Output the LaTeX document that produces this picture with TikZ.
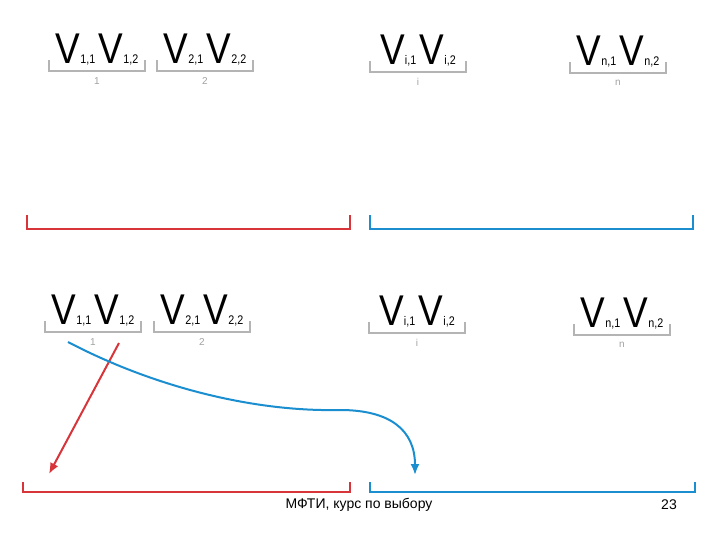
\documentclass[tikz,border=0pt]{standalone}
\usepackage{fontspec}
\setmainfont{Liberation Sans}
\usetikzlibrary{arrows.meta}
\definecolor{grp}{HTML}{B4B4B4}
\definecolor{redl}{HTML}{D8353A}
\definecolor{bluel}{HTML}{1B8ED0}
\newcommand{\vsub}[1]{{\fontsize{43}{43}\selectfont V}{\fontsize{12.5}{12.5}\selectfont #1}}

\begin{document}
\begin{tikzpicture}[x=1pt, y=-1pt, >=Latex,
  pair/.style={anchor=base, inner sep=0pt},
  grpbr/.style={draw=grp, line width=2.4pt},
  idx/.style={text=grp!90!black, font=\fontsize{10}{10}\selectfont, inner sep=0pt},
  redbr/.style={draw=redl, line width=2pt},
  bluebr/.style={draw=bluel, line width=2pt},
  foot/.style={font=\fontsize{14}{14}\selectfont, inner sep=0pt}]
  \fill[white] (0,0) rectangle (720,540);
  \useasboundingbox (0,0) rectangle (720,540);

  % upper row of pairs
  \foreach \cx/\by/\a in {97/71/1, 205/71/2, 418/72/i, 618/73/n} {
    \node[pair] (top-\a) at (\cx,\by-7)
      {\scalebox{0.86}[1]{\vsub{\a,1}\hspace{4pt}\vsub{\a,2}}};
    \draw[grpbr] (\cx-48,\by-11) -- (\cx-48,\by) -- (\cx+48,\by) -- (\cx+48,\by-11);
    \node[idx] (toplab-\a) at (\cx,\by+10) {\a};
  }
  \draw[redbr] (27,215) -- (27,229) -- (350,229) -- (350,215);
  \draw[bluebr] (370,215) -- (370,229) -- (693,229) -- (693,215);

  % lower row of pairs
  \foreach \cx/\by/\a in {93/332/1, 202/332/2, 417/333/i, 622/335/n} {
    \node[pair] (bot-\a) at (\cx,\by-8)
      {\scalebox{0.86}[1]{\vsub{\a,1}\hspace{4pt}\vsub{\a,2}}};
    \draw[grpbr] (\cx-48,\by-11) -- (\cx-48,\by) -- (\cx+48,\by) -- (\cx+48,\by-11);
    \node[idx] (botlab-\a) at (\cx,\by+10) {\a};
  }
  \draw[redbr] (23,482) -- (23,492) -- (350,492) -- (350,482);
  \draw[bluebr] (370,482) -- (370,492) -- (695,492) -- (695,482);

  % moves from the first pair
  \coordinate (redfrom) at (119,343);
  \coordinate (redto) at (49,474);
  \coordinate (bluefrom) at (68,342);
  \coordinate (bluemid) at (340,410);
  \coordinate (blueto) at (415,475);
  \draw[redl, line width=2pt, -{Latex[length=11pt,width=9pt]}] (redfrom) -- (redto);
  \draw[bluel, line width=2pt, -{Latex[length=11pt,width=9pt]}]
    (bluefrom) .. controls (150,385) and (250,412) .. (bluemid)
    .. controls (390,410) and (415,430) .. (blueto);

  \node[foot] (course) at (359,505) {МФТИ, курс по выбору};
  \node[foot] (page) at (669,505) {23};
\end{tikzpicture}
\end{document}
